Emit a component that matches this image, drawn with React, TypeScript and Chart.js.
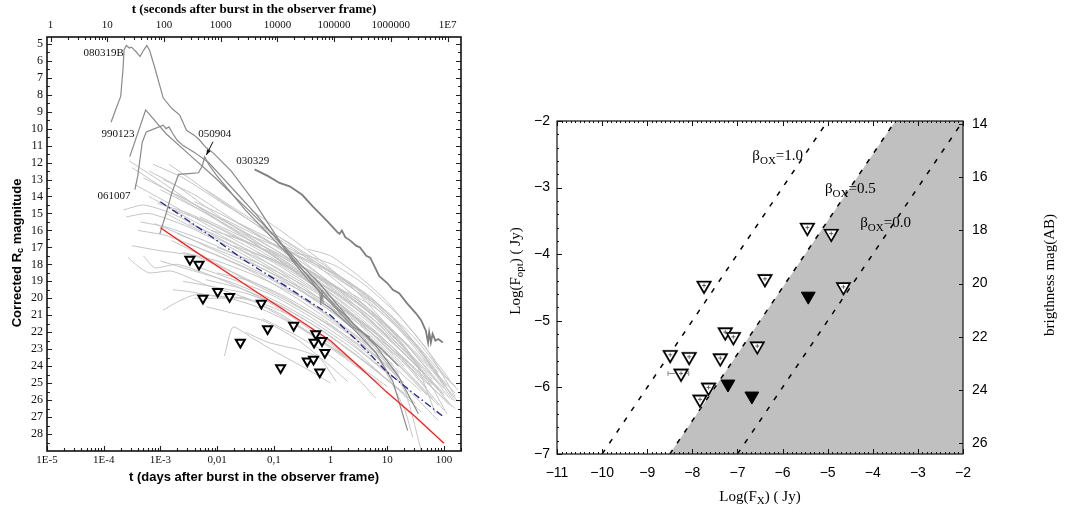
import React, { useEffect, useRef } from "react";
import { Chart, registerables } from "chart.js";
Chart.register(...registerables);

const SERIF = '"Liberation Serif", "Times New Roman", serif';
const SANS = '"Liberation Sans", Arial, sans-serif';

// ================= LEFT PANEL DATA =================
// tick labels
const dayTickValues = [1e-5, 1e-4, 1e-3, 1e-2, 1e-1, 1, 10, 100];
const dayTickLabels = ["1E-5", "1E-4", "1E-3", "0,01", "0,1", "1", "10", "100"];
const secTickValues = [1, 10, 100, 1000, 1e4, 1e5, 1e6, 1e7];
const secTickLabels = ["1", "10", "100", "1000", "10000", "100000", "1000000", "1E7"];
const magTickValues = [5, 6, 7, 8, 9, 10, 11, 12, 13, 14, 15, 16, 17, 18, 19, 20, 21, 22, 23, 24, 25, 26, 27, 28];

// light curves: [log10(t / days), corrected Rc magnitude]
const gray01 = [[-3.55, 11.9], [-3.0, 13.1], [-2.3, 14.7], [-1.5, 16.4], [-0.7, 18.2], [0.1, 20.2], [0.8, 22.3], [1.3, 24.0]];
const gray02 = [[-3.5, 12.3], [-2.8, 13.8], [-2.0, 15.4], [-1.2, 17.1], [-0.4, 19.0], [0.4, 21.2], [1.2, 23.8], [1.8, 25.9]];
const gray03 = [[-3.13, 12.1], [-2.6, 12.9], [-1.9, 14.4], [-1.1, 16.1], [-0.3, 17.9], [0.5, 20.1], [1.3, 22.6], [2.0, 25.3]];
const gray04 = [[-3.3, 12.9], [-2.6, 14.1], [-1.8, 15.6], [-0.9, 17.3], [0.0, 19.3], [0.8, 21.4], [1.6, 24.1]];
const gray05 = [[-3.45, 13.3], [-2.8, 14.5], [-2.0, 16.0], [-1.0, 17.8], [0.0, 19.9], [1.0, 22.6], [1.8, 25.1]];
const gray06 = [[-3.0, 13.6], [-2.3, 14.8], [-1.5, 16.3], [-0.6, 18.1], [0.3, 20.2], [1.2, 22.9], [2.0, 25.6]];
const gray07 = [[-3.2, 14.0], [-2.5, 15.3], [-1.6, 16.9], [-0.7, 18.8], [0.2, 21.0], [1.0, 23.3], [1.7, 25.7]];
const gray08 = [[-3.66, 14.8], [-3.3, 14.5], [-2.8, 15.0], [-2.0, 16.4], [-1.0, 18.3], [0.0, 20.6], [0.8, 22.8]];
const gray09 = [[-3.6, 15.2], [-3.2, 15.0], [-2.5, 15.8], [-1.6, 17.3], [-0.6, 19.3], [0.4, 21.8], [1.1, 23.9]];
const gray10 = [[-3.4, 16.0], [-2.9, 16.3], [-2.2, 17.2], [-1.4, 18.4], [-0.5, 20.2], [0.4, 22.3], [1.2, 24.5]];
const gray11 = [[-3.1, 15.6], [-2.6, 16.3], [-1.9, 17.4], [-1.0, 18.9], [-0.2, 20.7], [0.6, 22.8], [1.3, 25.0]];
const gray12 = [[-3.5, 16.9], [-3.0, 17.2], [-2.4, 17.5], [-1.7, 18.5], [-0.8, 20.0], [0.1, 21.9], [0.9, 24.1]];
const gray13 = [[-3.3, 17.5], [-3.1, 18.2], [-2.7, 18.0], [-2.0, 18.8], [-1.1, 20.2], [-0.2, 22.2], [0.6, 24.3]];
const gray14 = [[-2.9, 15.0], [-2.5, 15.7], [-1.8, 16.8], [-1.0, 18.1], [-0.1, 19.9], [0.8, 22.0], [1.7, 24.8]];
const gray15 = [[-2.7, 16.2], [-2.1, 17.0], [-1.3, 18.1], [-0.4, 19.6], [0.5, 21.5], [1.3, 23.6], [2.1, 26.3]];
const gray16 = [[-2.5, 16.8], [-1.9, 17.6], [-1.1, 18.8], [-0.3, 20.4], [0.5, 22.4], [1.2, 24.4]];
const gray17 = [[-3.57, 17.6], [-3.4, 18.1], [-3.2, 18.5], [-2.8, 18.4], [-2.2, 19.2], [-1.4, 20.1], [-0.6, 21.6], [0.2, 23.4], [0.9, 25.1]];
const gray18 = [[-2.95, 20.7], [-2.75, 20.3], [-2.4, 19.8], [-1.9, 19.9], [-1.3, 20.5], [-0.5, 21.8], [0.3, 23.5], [1.0, 25.2]];
const gray19 = [[-2.78, 19.5], [-2.5, 19.6], [-2.0, 19.9], [-1.5, 20.0], [-0.9, 20.9], [-0.2, 22.4], [0.5, 24.0]];
const gray20 = [[-2.19, 20.5], [-1.7, 20.9], [-1.2, 21.3], [-0.6, 22.4], [0.0, 24.0], [0.3, 24.9]];
const gray21 = [[-1.87, 23.4], [-1.72, 21.7], [-1.4, 22.3], [-1.0, 23.1], [-0.4, 24.2], [0.0, 25.0]];
const gray22 = [[-2.6, 19.0], [-2.1, 19.3], [-1.5, 19.7], [-0.8, 20.6], [-0.1, 22.0], [0.6, 23.7], [1.3, 25.6]];
const gray23 = [[-2.3, 18.2], [-1.8, 18.8], [-1.1, 19.7], [-0.4, 21.0], [0.4, 22.8], [1.1, 24.7]];
const gray24 = [[-2.2, 13.6], [-1.6, 14.9], [-0.9, 16.4], [-0.2, 18.0], [0.5, 19.7], [1.2, 21.8], [2.0, 25.0]];
const gray25 = [[-1.9, 15.3], [-1.3, 16.3], [-0.6, 17.5], [0.1, 18.8], [0.8, 20.4], [1.5, 22.7], [2.15, 26.0]];
const gray26 = [[-1.5, 16.2], [-0.9, 17.0], [-0.2, 18.1], [0.5, 19.5], [1.2, 21.5], [1.9, 24.4]];
const gray27 = [[-0.8, 17.2], [-0.4, 17.5], [0.1, 18.1], [0.6, 19.2], [1.2, 21.0], [1.7, 23.0], [2.2, 25.8]];
const gray28 = [[-1.2, 15.8], [-0.6, 17.0], [0.0, 18.3], [0.7, 20.1], [1.4, 22.4], [2.05, 25.2]];
const gray29 = [[-0.4, 17.1], [0.0, 17.5], [0.5, 18.7], [1.0, 20.2], [1.6, 22.6], [2.1, 24.8]];
const gray30 = [[-1.0, 17.5], [-0.3, 19.3], [0.3, 21.2], [0.8, 23.3], [1.3, 26.5], [1.45, 28.2]];
const gray31 = [[0.0, 20.5], [0.7, 22.6], [1.3, 25.4], [1.6, 29.0]];
const gray32 = [[-3.2, 12.5], [-2.7, 13.4], [-2.0, 15.1], [-1.2, 16.9], [-0.4, 18.8], [0.4, 21.0], [1.1, 23.3]];
const gray33 = [[-2.95, 13.0], [-2.4, 13.9], [-1.7, 15.4], [-0.9, 17.1], [-0.1, 19.1], [0.7, 21.3], [1.5, 23.9]];
const gray34 = [[-3.05, 14.4], [-2.5, 15.0], [-1.8, 16.1], [-1.0, 17.5], [-0.2, 19.2], [0.6, 21.2], [1.4, 23.6], [1.9, 25.4]];
const gray35 = [[-2.75, 14.8], [-2.2, 15.5], [-1.5, 16.7], [-0.7, 18.3], [0.1, 20.2], [0.9, 22.4], [1.6, 24.7]];
const gray36 = [[-2.4, 14.3], [-1.9, 15.1], [-1.2, 16.4], [-0.5, 17.9], [0.3, 19.8], [1.0, 21.8], [1.8, 24.8]];
const gray37 = [[-3.35, 15.5], [-2.9, 15.8], [-2.3, 16.5], [-1.5, 17.7], [-0.7, 19.2], [0.2, 21.2], [1.0, 23.4]];
const gray38 = [[-2.6, 17.3], [-2.0, 17.8], [-1.3, 18.7], [-0.5, 20.0], [0.3, 21.8], [1.0, 23.7], [1.6, 25.5]];
const gray39 = [[-2.1, 16.0], [-1.6, 16.5], [-0.9, 17.6], [-0.2, 19.1], [0.6, 21.0], [1.3, 23.1], [2.0, 25.7]];
const gray40 = [[-2.85, 12.1], [-2.5, 12.9], [-2.0, 14.1], [-1.3, 15.7], [-0.6, 17.5], [0.2, 19.7], [0.9, 21.9], [1.6, 24.3]];
const gray41 = [[-2.4, 20.0], [-2.0, 20.0], [-1.6, 20.0], [-1.2, 20.3], [-0.6, 21.2], [0.0, 22.6], [0.6, 24.4]];
const gray42 = [[-1.5, 22.0], [-1.1, 22.6], [-0.6, 23.0], [-0.2, 23.5], [0.1, 24.9]];
const gray43 = [[-2.0, 18.5], [-1.4, 19.0], [-0.8, 19.9], [-0.1, 21.3], [0.6, 23.1], [1.4, 25.5], [1.9, 27.2]];
const gray44 = [[0.3, 19.6], [0.8, 20.6], [1.3, 22.1], [1.8, 24.0], [2.2, 26.1]];
const gray45 = [[-1.4, 14.8], [-0.8, 16.2], [-0.2, 17.7], [0.4, 19.4], [1.0, 21.6], [1.5, 23.8], [1.85, 26.8]];
const gray46 = [[-1.7, 16.9], [-1.0, 17.8], [-0.3, 19.0], [0.4, 20.8], [1.1, 22.9], [1.7, 25.3]];
const gray47 = [[-2.8, 16.6], [-2.2, 17.6], [-1.5, 18.9], [-0.8, 20.1], [0.0, 21.6], [0.7, 23.2], [1.2, 24.6]];
const gray48 = [[-2.3, 15.2], [-1.6, 16.3], [-0.9, 17.4], [-0.2, 18.7], [0.5, 20.3], [1.2, 22.3], [1.8, 24.3], [2.25, 26.1]];
const gray49 = [[-1.8, 16.3], [-1.1, 17.2], [-0.4, 18.3], [0.3, 19.8], [1.0, 21.6], [1.6, 23.5], [2.2, 25.6]];
const gray50 = [[-1.0, 16.8], [-0.5, 17.6], [0.1, 18.6], [0.7, 19.9], [1.3, 21.9], [1.9, 24.2], [2.25, 25.4]];
const gray51 = [[-2.5, 15.6], [-1.8, 16.6], [-1.0, 17.9], [-0.3, 19.4], [0.4, 21.1], [1.1, 23.2], [1.7, 25.0], [2.2, 26.5]];
const gray52 = [[-1.3, 17.3], [-0.7, 18.2], [0.0, 19.5], [0.6, 20.8], [1.2, 22.6], [1.8, 25.0], [2.15, 26.4]];
const gray53 = [[-2.0, 17.0], [-1.3, 17.9], [-0.6, 19.0], [0.1, 20.4], [0.8, 22.1], [1.4, 24.2], [2.0, 26.6]];
const gray54 = [[-0.6, 18.4], [0.0, 19.1], [0.6, 20.4], [1.2, 22.2], [1.8, 24.6], [2.1, 25.9]];
const gray55 = [[-1.6, 15.6], [-1.0, 16.6], [-0.3, 17.8], [0.4, 19.2], [1.0, 20.8], [1.5, 22.4], [2.0, 24.5], [2.2, 25.2]];
const gray56 = [[-3.0, 17.8], [-2.5, 18.3], [-1.8, 19.0], [-1.0, 20.1], [-0.3, 21.4], [0.4, 23.0], [1.0, 24.8], [1.5, 26.2]];
const gray57 = [[-2.2, 18.9], [-1.6, 19.4], [-0.9, 20.4], [-0.2, 21.8], [0.5, 23.5], [1.1, 25.1], [1.6, 26.7]];
const gray58 = [[-0.2, 18.9], [0.3, 19.7], [0.8, 21.0], [1.3, 22.8], [1.8, 25.3], [2.05, 26.8]];
const gray59 = [[-1.1, 18.6], [-0.5, 19.6], [0.2, 21.0], [0.8, 22.6], [1.4, 24.6], [1.9, 26.3]];
const gray60 = [[-2.7, 13.9], [-2.1, 15.0], [-1.4, 16.3], [-0.7, 17.7], [0.0, 19.2], [0.7, 20.9], [1.3, 22.9], [1.9, 25.0]];
const gray61 = [[-1.2, 21.2], [-0.6, 22.2], [0.0, 23.4], [0.5, 24.8], [0.8, 25.9]];

const grayCurves = [
  gray01, gray02, gray03, gray04, gray05, gray06, gray07, gray08, gray09, gray10,
  gray11, gray12, gray13, gray14, gray15, gray16, gray17, gray18, gray19, gray20,
  gray21, gray22, gray23, gray24, gray25, gray26, gray27, gray28, gray29, gray30,
  gray31, gray32, gray33, gray34, gray35, gray36, gray37, gray38, gray39, gray40,
  gray41, gray42, gray43, gray44, gray45, gray46, gray47, gray48, gray49, gray50,
  gray51, gray52, gray53, gray54, gray55, gray56, gray57, gray58, gray59, gray60,
  gray61,
];

// named bursts
const grb080319B = [[-3.87, 9.62], [-3.78, 8.8], [-3.7, 8.1], [-3.66, 6.5], [-3.64, 5.35], [-3.6, 5.1], [-3.55, 5.25], [-3.51, 5.2], [-3.42, 5.5], [-3.36, 5.75], [-3.3, 5.4], [-3.24, 5.1], [-3.19, 5.4], [-3.1, 6.4], [-2.95, 8.2], [-2.8, 8.8], [-2.66, 9.2], [-2.54, 10.1], [-2.4, 10.4], [-2.31, 10.67], [-2.2, 11.1], [-2.07, 11.43], [-1.75, 12.5], [-1.37, 14.2], [-1.02, 16.0], [-0.67, 17.8], [-0.4, 18.9], [-0.19, 19.6], [-0.17, 20.4], [-0.15, 19.5], [-0.13, 20.3], [0.0, 20.6], [0.4, 21.8], [0.8, 23.2], [1.1, 24.9], [1.36, 27.8]];
const grb990123 = [[-3.54, 11.65], [-3.26, 8.9], [-2.9, 10.3], [-2.5, 11.5], [-2.0, 13.0], [-1.6, 14.3], [-1.2, 15.6], [-0.8, 17.0], [-0.5, 18.1], [-0.2, 19.1], [0.1, 20.3], [0.4, 21.5], [0.8, 22.8], [1.2, 24.6], [1.55, 26.8]];
const grb061007 = [[-3.45, 13.6], [-3.4, 12.8], [-3.32, 10.8], [-3.25, 10.2], [-3.1, 10.0], [-2.95, 9.8], [-2.9, 10.0], [-2.85, 9.9], [-2.78, 10.3], [-2.7, 10.7], [-2.6, 11.0], [-2.4, 11.4], [-2.15, 12.0], [-1.9, 12.9], [-1.6, 14.0], [-1.3, 15.1], [-1.0, 16.3], [-0.7, 17.5], [-0.4, 18.7], [-0.2, 19.6], [0.1, 20.6], [0.4, 21.7], [0.7, 22.3]];
const grb050904 = [[-3.01, 16.2], [-2.9, 15.0], [-2.8, 13.8], [-2.68, 12.7], [-2.5, 12.65], [-2.33, 12.6], [-2.26, 12.2], [-2.22, 11.65], [-2.15, 12.1], [-2.0, 12.8], [-1.8, 13.6], [-1.5, 14.8], [-1.1, 16.2], [-0.7, 17.6], [-0.3, 19.0], [0.1, 20.5], [0.5, 21.8], [0.9, 23.0], [1.2, 24.0]];
const grb030329 = [[-1.34, 12.4], [-1.1, 12.8], [-0.9, 13.2], [-0.72, 13.4], [-0.5, 13.9], [-0.31, 14.6], [-0.1, 15.3], [0.04, 15.8], [0.12, 16.1], [0.16, 16.2], [0.2, 16.0], [0.26, 16.4], [0.35, 16.6], [0.45, 16.9], [0.52, 17.0], [0.63, 17.5], [0.7, 17.6], [0.86, 18.7], [1.0, 19.1], [1.1, 19.5], [1.21, 19.7], [1.35, 20.3], [1.51, 20.9], [1.6, 21.3], [1.68, 21.9], [1.72, 22.6], [1.74, 22.0], [1.77, 22.6], [1.8, 22.1], [1.85, 22.5], [1.9, 22.4], [1.98, 22.6]];

// reference decay lines
const redLine = [[-3.0, 15.84], [-2.42, 17.16], [-1.5, 19.2], [-0.5, 21.4], [0.0, 22.5], [0.5, 24.0], [0.98, 25.5], [1.5, 27.0], [2.0, 28.54]];
const blueLine = [[-3.0, 14.31], [-2.22, 16.08], [-1.5, 17.8], [-0.78, 19.3], [0.0, 21.0], [0.5, 22.6], [0.98, 24.3], [1.5, 25.7], [2.0, 27.0]];

// upper limits (open triangles)
const limitLogT = [-2.48, -2.32, -2.25, -1.99, -1.78, -1.22, -1.59, -1.11, -0.88, -0.65, -0.26, -0.29, -0.15, -0.10, -0.41, -0.30, -0.19];
const limitMag = [17.7, 18.0, 20.0, 19.6, 19.9, 20.3, 22.6, 21.8, 24.1, 21.6, 22.1, 22.6, 22.5, 23.2, 23.7, 23.6, 24.35];

// curve annotations
const curveLabelNames = ["080319B", "990123", "050904", "030329", "061007"];
const curveLabelLogT = [-4.0, -3.75, -2.04, -1.37, -3.82];
const curveLabelMag = [5.55, 10.33, 10.33, 11.89, 13.95];
const arrowLogT = [-2.072, -2.19];
const arrowMag = [10.77, 11.56];

// ================= RIGHT PANEL DATA =================
const fxTickValues = [-11, -10, -9, -8, -7, -6, -5, -4, -3, -2];
const foptTickValues = [-7, -6, -5, -4, -3, -2];
const abMagTickValues = [14, 16, 18, 20, 22, 24, 26];

const openLogFx = [-5.45, -4.92, -7.74, -6.39, -4.65, -7.27, -7.09, -6.56, -8.49, -8.07, -7.38, -8.25, -7.64, -7.83];
const openLogFopt = [-3.6, -3.69, -4.47, -4.37, -4.49, -5.17, -5.24, -5.38, -5.51, -5.54, -5.56, -5.79, -6.0, -6.18];
const filledLogFx = [-5.43, -7.21, -6.68];
const filledLogFopt = [-4.63, -5.95, -6.13];
const errBarFx = [-8.54, -8.08];
const errBarFopt = [-5.79, -5.79];

const beta10Fx = [-10, -5];
const beta10Fopt = [-7, -2];
const beta05Fx = [-8.5, -3.5];
const beta05Fopt = [-7, -2];
const beta00Fx = [-7, -2];
const beta00Fopt = [-7, -2];
const shadeFx = [-8.5, -3.5, -2];
const shadeFopt = [-7, -2, -2];

const betaLabelText = ["=1.0", "=0.5", "=0.0"];
const betaLabelFx = [-6.67, -5.06, -4.28];
const betaLabelFopt = [-2.59, -3.08, -3.59];

// ================= helpers =================
const logPts = (arr: number[][]) => arr.map(([lt, m]) => ({ x: Math.pow(10, lt), y: m }));
const zipPts = (xs: number[], ys: number[]) => xs.map((x, i) => ({ x, y: ys[i] }));
const minus = (v: number) => (v < 0 ? "\u2212" + Math.abs(v) : String(v));

function drawRich(ctx: CanvasRenderingContext2D, parts: [string, string, number][], x: number, y: number, align: "center" | "left") {
  let total = 0;
  for (const [t, f] of parts) {
    ctx.font = f;
    total += ctx.measureText(t).width;
  }
  let cx = align === "center" ? x - total / 2 : x;
  ctx.textAlign = "left";
  for (const [t, f, dy] of parts) {
    ctx.font = f;
    ctx.fillText(t, cx, y + dy);
    cx += ctx.measureText(t).width;
  }
}

const leftDecor = {
  id: "leftDecor",
  afterDraw(chart: any) {
    const { ctx, chartArea: a, scales } = chart;
    const xs = scales.x, xs2 = scales.x2, ys = scales.y;
    ctx.save();
    ctx.strokeStyle = "#222";
    ctx.lineWidth = 1.1;
    ctx.beginPath();
    for (let e = -5; e <= 2; e++) {
      for (let k = 1; k <= 9; k++) {
        const v = k * Math.pow(10, e);
        if (v < 1e-5 || v > 200) continue;
        const px = Math.round(xs.getPixelForValue(v)) + 0.5;
        const len = k === 1 ? 5 : 3;
        ctx.moveTo(px, a.bottom);
        ctx.lineTo(px, a.bottom - len);
      }
    }
    for (let e = 0; e <= 7; e++) {
      for (let k = 1; k <= 9; k++) {
        const v = k * Math.pow(10, e);
        if (v < 0.864 || v > 200 * 86400) continue;
        const px = Math.round(xs2.getPixelForValue(v)) + 0.5;
        const len = k === 1 ? 5 : 3;
        ctx.moveTo(px, a.top);
        ctx.lineTo(px, a.top + len);
      }
    }
    for (let i = 0; i <= 47; i++) {
      const m = 5 + i * 0.5;
      if (m > 29) break;
      const py = Math.round(ys.getPixelForValue(m)) + 0.5;
      const len = i % 2 === 0 ? 5 : 3;
      ctx.moveTo(a.left, py);
      ctx.lineTo(a.left + len, py);
      ctx.moveTo(a.right, py);
      ctx.lineTo(a.right - len, py);
    }
    ctx.stroke();
    ctx.lineWidth = 1.6;
    ctx.strokeStyle = "#111";
    ctx.strokeRect(a.left, a.top, a.right - a.left, a.bottom - a.top);

    ctx.fillStyle = "#000";
    ctx.textBaseline = "middle";
    ctx.textAlign = "center";
    const cxm = (a.left + a.right) / 2;
    ctx.font = "bold 13px " + SERIF;
    ctx.fillText("t (seconds after burst in the observer frame)", cxm, 10);
    ctx.font = "bold 13px " + SANS;
    ctx.fillText("t (days after burst in the observer frame)", cxm, 477);

    ctx.save();
    ctx.translate(17, 253);
    ctx.rotate(-Math.PI / 2);
    drawRich(ctx, [["Corrected R", "bold 13px " + SANS, 0], ["c", "bold 9px " + SANS, 4], [" magnitude", "bold 13px " + SANS, 0]], 0, 0, "center");
    ctx.restore();

    ctx.font = "11px " + SERIF;
    ctx.fillStyle = "#111";
    ctx.textAlign = "center";
    curveLabelNames.forEach((name, i) => {
      const px = xs.getPixelForValue(Math.pow(10, curveLabelLogT[i]));
      const py = ys.getPixelForValue(curveLabelMag[i]);
      ctx.fillText(name, px, py);
    });

    const x1 = xs.getPixelForValue(Math.pow(10, arrowLogT[0]));
    const y1 = ys.getPixelForValue(arrowMag[0]);
    const x2 = xs.getPixelForValue(Math.pow(10, arrowLogT[1]));
    const y2 = ys.getPixelForValue(arrowMag[1]);
    ctx.strokeStyle = "#111";
    ctx.lineWidth = 1;
    ctx.beginPath();
    ctx.moveTo(x1, y1);
    ctx.lineTo(x2, y2);
    ctx.stroke();
    const ang = Math.atan2(y2 - y1, x2 - x1);
    ctx.beginPath();
    ctx.moveTo(x2, y2);
    ctx.lineTo(x2 - 6 * Math.cos(ang - 0.35), y2 - 6 * Math.sin(ang - 0.35));
    ctx.lineTo(x2 - 6 * Math.cos(ang + 0.35), y2 - 6 * Math.sin(ang + 0.35));
    ctx.closePath();
    ctx.fillStyle = "#111";
    ctx.fill();
    ctx.restore();
  },
};

const rightDecor = {
  id: "rightDecor",
  afterDraw(chart: any) {
    const { ctx, chartArea: a, scales } = chart;
    const xs = scales.x, ys = scales.y, ys2 = scales.y2;
    ctx.save();
    ctx.strokeStyle = "#111";
    ctx.lineWidth = 1;
    ctx.beginPath();
    for (let i = 0; i <= 90; i++) {
      const v = -11 + i / 10;
      const px = Math.round(xs.getPixelForValue(v)) + 0.5;
      const len = i % 10 === 0 ? 5 : 2;
      ctx.moveTo(px, a.bottom);
      ctx.lineTo(px, a.bottom - len);
      ctx.moveTo(px, a.top);
      ctx.lineTo(px, a.top + len);
    }
    for (let i = 0; i <= 25; i++) {
      const v = -7 + i / 5;
      const py = Math.round(ys.getPixelForValue(v)) + 0.5;
      const len = i % 5 === 0 ? 5 : 2;
      ctx.moveTo(a.left, py);
      ctx.lineTo(a.left + len, py);
    }
    for (const m of abMagTickValues) {
      const py = Math.round(ys2.getPixelForValue(m)) + 0.5;
      ctx.moveTo(a.right, py);
      ctx.lineTo(a.right - 4, py);
    }
    ctx.stroke();
    ctx.lineWidth = 1.2;
    ctx.strokeRect(a.left, a.top, a.right - a.left, a.bottom - a.top);

    ctx.fillStyle = "#000";
    ctx.textBaseline = "alphabetic";
    betaLabelText.forEach((t, i) => {
      const px = xs.getPixelForValue(betaLabelFx[i]);
      const py = ys.getPixelForValue(betaLabelFopt[i]);
      drawRich(ctx, [["\u03B2", "15px " + SERIF, 0], ["OX", "11px " + SERIF, 4], [t, "15px " + SERIF, 0]], px, py, "left");
    });

    ctx.textBaseline = "middle";
    drawRich(ctx, [["Log(F", "15px " + SERIF, 0], ["X", "11px " + SERIF, 4], [") ( Jy)", "15px " + SERIF, 0]], (a.left + a.right) / 2, 497, "center");

    ctx.save();
    ctx.translate(36, 271);
    ctx.rotate(-Math.PI / 2);
    drawRich(ctx, [["Log(F", "15px " + SERIF, 0], ["opt", "11px " + SERIF, 4], [") ( Jy)", "15px " + SERIF, 0]], 0, 0, "center");
    ctx.restore();

    ctx.save();
    ctx.translate(570, 275);
    ctx.rotate(-Math.PI / 2);
    ctx.font = "15px " + SERIF;
    ctx.textAlign = "center";
    ctx.fillText("brigthness mag(AB)", 0, 0);
    ctx.restore();
    ctx.restore();
  },
};

const noGrid = { display: false, drawTicks: false };
const noBorder = { display: false };

function LeftChart() {
  const ref = useRef<HTMLCanvasElement>(null);
  useEffect(() => {
    if (!ref.current) return;
    const datasets: any[] = [];
    datasets.push({
      data: zipPts(limitLogT.map((t) => Math.pow(10, t)), limitMag),
      showLine: false,
      pointStyle: "triangle",
      rotation: 180,
      radius: 5.2,
      borderWidth: 2,
      borderColor: "#000",
      backgroundColor: "#fff",
      order: 0,
    });
    datasets.push({
      data: logPts(redLine), showLine: true, borderColor: "#ff1a1a", borderWidth: 1.3, pointRadius: 0, order: 1,
    });
    datasets.push({
      data: logPts(blueLine), showLine: true, borderColor: "#23238c", borderWidth: 1.3, borderDash: [7, 3, 1.5, 3], pointRadius: 0, order: 1,
    });
    [grb080319B, grb990123, grb061007, grb050904].forEach((c) => {
      datasets.push({ data: logPts(c), showLine: true, borderColor: "#8a8a8a", borderWidth: 1.2, pointRadius: 0, order: 2 });
    });
    datasets.push({ data: logPts(grb030329), showLine: true, borderColor: "#7e7e7e", borderWidth: 1.8, pointRadius: 0, order: 2 });
    grayCurves.forEach((c) => {
      datasets.push({ data: logPts(c), showLine: true, borderColor: "#c4c4c4", borderWidth: 1, pointRadius: 0, tension: 0.2, order: 3 });
    });

    const chart = new Chart(ref.current, {
      type: "scatter",
      data: { datasets },
      options: {
        animation: false,
        responsive: false,
        devicePixelRatio: 1,
        events: [],
        layout: { padding: { left: 0, right: 19, top: 0, bottom: 0 } },
        plugins: { legend: { display: false }, tooltip: { enabled: false } },
        scales: {
          x: {
            type: "logarithmic",
            position: "bottom",
            min: 1e-5,
            max: 200,
            afterBuildTicks: (s: any) => { s.ticks = dayTickValues.map((v) => ({ value: v })); },
            afterFit: (s: any) => { s.height = 65; },
            ticks: { autoSkip: false, maxRotation: 0, padding: 3, color: "#111", font: { family: SERIF, size: 11 }, callback: (_v: any, i: number) => dayTickLabels[i] },
            grid: noGrid,
            border: noBorder,
          },
          x2: {
            type: "logarithmic",
            position: "top",
            min: 0.864,
            max: 200 * 86400,
            afterBuildTicks: (s: any) => { s.ticks = secTickValues.map((v) => ({ value: v })); },
            afterFit: (s: any) => { s.height = 37; },
            ticks: { autoSkip: false, maxRotation: 0, padding: 5, color: "#111", font: { family: SERIF, size: 11 }, callback: (_v: any, i: number) => secTickLabels[i] },
            grid: noGrid,
            border: noBorder,
          },
          y: {
            type: "linear",
            reverse: true,
            min: 4.6,
            max: 29,
            afterBuildTicks: (s: any) => { s.ticks = magTickValues.map((v) => ({ value: v })); },
            afterFit: (s: any) => { s.width = 47; },
            ticks: { autoSkip: false, padding: 4, color: "#111", font: { family: SERIF, size: 12 } },
            grid: noGrid,
            border: noBorder,
          },
        },
      } as any,
      plugins: [leftDecor],
    });
    return () => chart.destroy();
  }, []);
  return <canvas ref={ref} width={480} height={516} style={{ display: "block" }} />;
}

function RightChart() {
  const ref = useRef<HTMLCanvasElement>(null);
  useEffect(() => {
    if (!ref.current) return;
    const datasets: any[] = [
      {
        data: zipPts(openLogFx, openLogFopt),
        pointStyle: "cross",
        radius: 2,
        borderWidth: 0.9,
        borderColor: "#555",
        order: -1,
      },
      {
        data: zipPts(openLogFx, openLogFopt),
        pointStyle: "triangle",
        rotation: 180,
        radius: 7.5,
        borderWidth: 1.6,
        borderColor: "#000",
        backgroundColor: "#fff",
        order: 0,
      },
      {
        data: zipPts(openLogFx, openLogFopt),
        pointStyle: "triangle",
        rotation: 180,
        radius: 9,
        borderWidth: 1,
        borderColor: "#9a9a9a",
        backgroundColor: "#fff",
        order: 0.5,
      },
      {
        data: zipPts(filledLogFx, filledLogFopt),
        pointStyle: "triangle",
        rotation: 180,
        radius: 8,
        borderWidth: 1,
        borderColor: "#000",
        backgroundColor: "#000",
        order: 0,
      },
      {
        data: zipPts(errBarFx, errBarFopt),
        showLine: true,
        borderColor: "#8a8a8a",
        borderWidth: 1,
        pointStyle: "line",
        rotation: 90,
        radius: 2.5,
        pointBorderColor: "#8a8a8a",
        order: 1,
      },
      { data: zipPts(beta10Fx, beta10Fopt), showLine: true, borderColor: "#000", borderWidth: 1.5, borderDash: [5, 8], pointRadius: 0, order: 2 },
      { data: zipPts(beta05Fx, beta05Fopt), showLine: true, borderColor: "#000", borderWidth: 1.5, borderDash: [5, 8], pointRadius: 0, order: 2 },
      { data: zipPts(beta00Fx, beta00Fopt), showLine: true, borderColor: "#000", borderWidth: 1.5, borderDash: [5, 8], pointRadius: 0, order: 2 },
      {
        data: zipPts(shadeFx, shadeFopt),
        showLine: true,
        fill: "start",
        backgroundColor: "#c0c0c0",
        borderWidth: 0,
        borderColor: "rgba(0,0,0,0)",
        pointRadius: 0,
        order: 3,
      },
    ];
    const chart = new Chart(ref.current, {
      type: "scatter",
      data: { datasets },
      options: {
        animation: false,
        responsive: false,
        devicePixelRatio: 1,
        events: [],
        layout: { padding: { left: 0, right: 0, top: 121, bottom: 0 } },
        plugins: { legend: { display: false }, tooltip: { enabled: false } },
        scales: {
          x: {
            type: "linear",
            min: -11,
            max: -2,
            afterBuildTicks: (s: any) => { s.ticks = fxTickValues.map((v) => ({ value: v })); },
            afterFit: (s: any) => { s.height = 62; },
            ticks: { autoSkip: false, maxRotation: 0, padding: 11, color: "#000", font: { family: SANS, size: 14 }, callback: (v: any) => minus(Number(v)) },
            grid: noGrid,
            border: noBorder,
          },
          y: {
            type: "linear",
            min: -7,
            max: -2,
            afterBuildTicks: (s: any) => { s.ticks = foptTickValues.map((v) => ({ value: v })); },
            afterFit: (s: any) => { s.width = 77; },
            ticks: { autoSkip: false, padding: 7, color: "#000", font: { family: SANS, size: 14 }, callback: (v: any) => minus(Number(v)) },
            grid: noGrid,
            border: noBorder,
          },
          y2: {
            type: "linear",
            position: "right",
            reverse: true,
            min: 13.9,
            max: 26.4,
            afterBuildTicks: (s: any) => { s.ticks = abMagTickValues.map((v) => ({ value: v })); },
            afterFit: (s: any) => { s.width = 114; },
            ticks: { autoSkip: false, padding: 9, color: "#000", font: { family: SANS, size: 14 } },
            grid: noGrid,
            border: noBorder,
          },
        },
      } as any,
      plugins: [rightDecor],
    });
    return () => chart.destroy();
  }, []);
  return <canvas ref={ref} width={597} height={516} style={{ display: "block" }} />;
}

export default function App() {
  return (
    <div style={{ position: "fixed", left: 0, top: 0, width: 1077, height: 516, background: "#fff", overflow: "hidden" }}>
      <div style={{ position: "absolute", left: 0, top: 0, width: 480, height: 516 }}>
        <LeftChart />
      </div>
      <div style={{ position: "absolute", left: 480, top: 0, width: 597, height: 516 }}>
        <RightChart />
      </div>
    </div>
  );
}
